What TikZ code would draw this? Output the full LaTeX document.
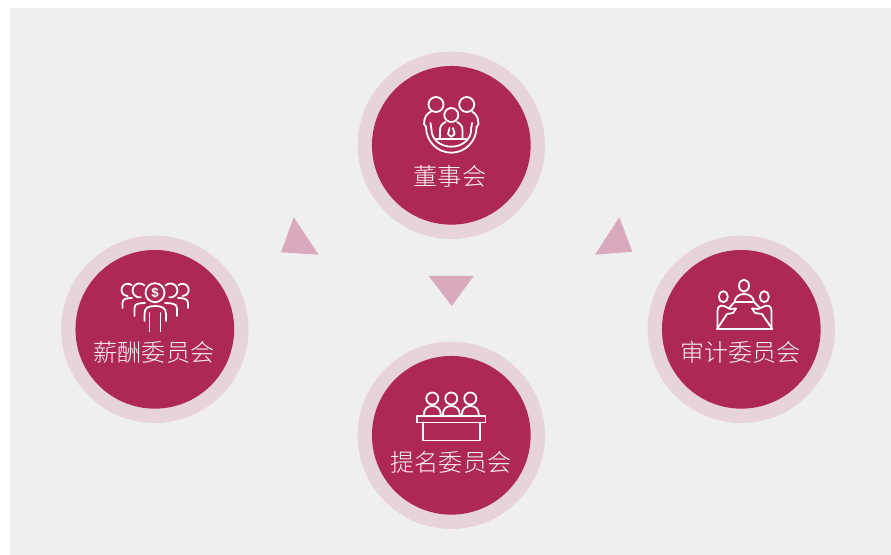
\documentclass[tikz,border=0pt]{standalone}
\usepackage{fontspec}
\newfontfamily\cjk{Noto Sans CJK SC Light}
\definecolor{crim}{HTML}{AD2757}
\definecolor{ringc}{HTML}{E6D3DB}
\definecolor{bgc}{HTML}{EFEFEF}
\definecolor{tri}{HTML}{D9A9BD}
\definecolor{lab}{HTML}{FAF2F5}
\tikzset{
  ringn/.style={circle,fill=ringc,minimum size=140.5pt,inner sep=0pt,draw=none},
  coren/.style={circle,fill=crim,minimum size=119pt,inner sep=0pt,draw=none},
  labn/.style={text=lab,inner sep=0pt,font=\cjk\fontsize{18.1}{20}\selectfont},
  trin/.style={fill=tri,draw=none},
  ico/.style={draw=white,line width=1.35pt,line cap=round,line join=round},
}
\begin{document}
\begin{tikzpicture}[x=0.75pt,y=-0.75pt]
\useasboundingbox (0,0) rectangle (891,555);
\fill[white] (0,0) rectangle (891,555);
\fill[bgc] (10,8) rectangle (891,555);
% triangles
\fill[trin] (293.7,217.3) -- (281,252.3) -- (318.7,254.7) -- cycle;
\fill[trin] (428.7,276) -- (473.7,276) -- (451.7,306) -- cycle;
\fill[trin] (619.3,217.3) -- (595,254.7) -- (632.3,251.7) -- cycle;
% circles
\node[ringn] (rt) at (451.3,145.3) {};
\node[coren] (ct) at (451.3,145.3) {};
\node[ringn] (rl) at (154.8,329.3) {};
\node[coren] (cl) at (154.8,329.3) {};
\node[ringn] (rr) at (741.3,329.3) {};
\node[coren] (cr) at (741.3,329.3) {};
\node[ringn] (rb) at (451.3,435.3) {};
\node[coren] (cb) at (451.3,435.3) {};
% labels
\node[labn] (lt) at (450,176.5) {董事会};
\node[labn] (ll) at (154,352) {薪酬委员会};
\node[labn] (lr) at (740.5,352) {审计委员会};
\node[labn] (lb) at (451,462) {提名委员会};
% top icon
\begin{scope}[ico]
\draw (436,104.5) circle (7.5);
\draw (466.7,104.5) circle (7.5);
\draw (451.3,115) circle (7);
\draw (426,127) arc[start angle=180,end angle=0,x radius=25.3,y radius=25.7];
\draw (431.5,130) arc[start angle=180,end angle=0,x radius=19.8,y radius=16.7];
\draw (426,127) -- (424,124) .. controls (424,117) and (427,113.5) .. (431,111.5);
\draw (476.6,127) -- (478.5,124) .. controls (478.5,117) and (475.5,113.5) .. (472,111.5);
\draw (431.5,130) -- (430.5,123);
\draw (471,130) -- (472,123);
\draw (440,139) -- (440,130) .. controls (440,126) and (442,124) .. (445.5,122);
\draw (462.5,139) -- (462.5,130) .. controls (462.5,126) and (460.5,124) .. (457,122);
\draw (436,139) -- (466.5,139);
\draw (449.5,128) -- (448,134) -- (451.3,137) -- (454.6,134) -- (453,128);
\end{scope}
% left icon
\begin{scope}[ico]
\draw (155,292.7) circle (9.5);
\node[text=white,inner sep=0pt,font=\fontspec{Liberation Sans}\bfseries\fontsize{10}{11}\selectfont] (dollar) at (155,293) {\$};
\draw (144.5,285.5) arc[start angle=-45,end angle=-280,radius=7];
\draw (165.5,285.5) arc[start angle=225,end angle=460,radius=7];
\draw (131.7,285.2) arc[start angle=-50,end angle=-270,radius=6.2];
\draw (178.5,285.2) arc[start angle=230,end angle=450,radius=6.2];
\draw (122.5,308) -- (122.5,303) .. controls (122.5,299) and (126,298) .. (132,298);
\draw (188,308) -- (188,303) .. controls (188,299) and (184,298) .. (178,298);
\draw (134.5,316) -- (134.5,308) .. controls (134.5,304) and (138,303) .. (145,303);
\draw (177,316) -- (177,308) .. controls (177,304) and (172,303) .. (165,303);
\draw (144.5,321) -- (144.5,314) .. controls (144.5,308) and (148,306) .. (155,306) .. controls (162,306) and (166,308) .. (166,314) -- (166,321);
\draw (149.5,313) -- (149.5,331.5);
\draw (160.5,313) -- (160.5,331.5);
\end{scope}
% right icon
\begin{scope}[ico]
\draw (744,285.7) ellipse (5 and 6);
\draw (734.5,302) .. controls (735,297) and (739,294) .. (744,294) .. controls (749,294) and (753.5,297) .. (754,302) -- cycle;
\draw (723.3,296.7) ellipse (4.5 and 5.5);
\draw (764.3,296.7) ellipse (4.5 and 5.5);
\draw (717,329) -- (772.3,329);
\draw (717,329) -- (727,314);
\draw (772.3,329) -- (762,314);
\draw (734.5,302) -- (729,308);
\draw (754,302) -- (760,308);
\draw (717.5,328) -- (717.5,311) .. controls (717.5,306) and (721,305) .. (724,306) -- (730,309) -- (736,308.5);
\draw (771.5,328) -- (771.5,311) .. controls (771.5,306) and (768,305) .. (765,306) -- (758,309) -- (752,308.5);
\draw (736,308.5) -- (733,313) -- (727,314);
\draw (752,308.5) -- (755,313) -- (762,314);
\end{scope}
% bottom icon
\begin{scope}[ico]
\draw (432.3,398.5) circle (6);
\draw (451.3,398.5) circle (6);
\draw (470.3,398.5) circle (6);
\foreach \cx in {432.3,451.3,470.3}
  \draw (\cx-8.5,415) .. controls (\cx-8.5,409) and (\cx-5,406) .. (\cx,406) .. controls (\cx+5,406) and (\cx+8.5,409) .. (\cx+8.5,415);
\draw (417,416) rectangle (485.5,422.5);
\draw (422.8,422.5) -- (422.8,440.5) -- (480,440.5) -- (480,422.5);
\end{scope}
\end{tikzpicture}
\end{document}
